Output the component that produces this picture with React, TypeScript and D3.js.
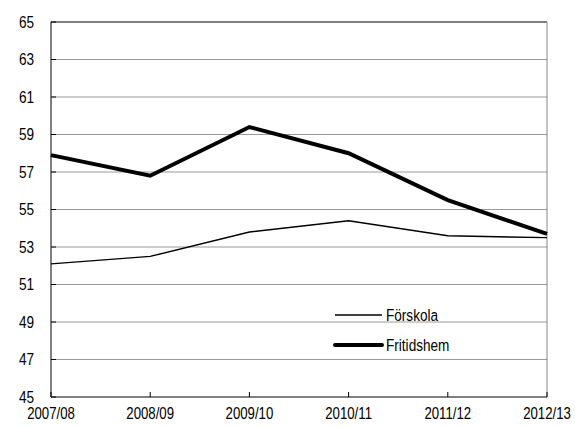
import React from "react";
import * as d3 from "d3";

const categories = ["2007/08", "2008/09", "2009/10", "2010/11", "2011/12", "2012/13"];
const forskola = [52.1, 52.5, 53.8, 54.4, 53.6, 53.5];
const fritidshem = [57.9, 56.8, 59.4, 58.0, 55.5, 53.7];
const yTicks = [45, 47, 49, 51, 53, 55, 57, 59, 61, 63, 65];
const seriesNames = ["Förskola", "Fritidshem"];

const W = 575, H = 427;
const left = 51, right = 547, top = 22, bottom = 397;
const font = "'Liberation Sans', Arial, sans-serif";
const SX = 0.8;

function T({ x, y, anchor = "start", size = 17, children }: { x: number; y: number; anchor?: string; size?: number; children: React.ReactNode }) {
  return (
    <text
      transform={`translate(${x},${y}) scale(${SX},1)`}
      textAnchor={anchor}
      fontFamily={font}
      fontSize={size}
      fill="#000"
    >
      {children}
    </text>
  );
}

export default function App() {
  const x = d3.scalePoint<string>().domain(categories).range([left, right]);
  const y = d3.scaleLinear().domain([45, 65]).range([bottom, top]);
  const line = d3.line<number>().x((_, i) => x(categories[i]) as number).y((d) => y(d));

  return (
    <svg width={W} height={H} style={{ position: "absolute", left: 0, top: 0, background: "#fff" }}>
      {yTicks.filter((t) => t !== 45 && t !== 65).map((t) => (
        <line key={t} x1={left + 1} x2={right} y1={y(t)} y2={y(t)} stroke="#999" strokeWidth={1} />
      ))}
      <line x1={left} x2={right} y1={top} y2={top} stroke="#000" strokeWidth={1} />
      <line x1={right} x2={right} y1={top} y2={bottom} stroke="#888" strokeWidth={1} />
      <line x1={left} x2={left} y1={top} y2={bottom} stroke="#000" strokeWidth={1} />
      <line x1={left} x2={right} y1={bottom} y2={bottom} stroke="#000" strokeWidth={1} />
      {yTicks.map((t) => (
        <g key={t}>
          <line x1={left} x2={left + 5} y1={y(t)} y2={y(t)} stroke="#000" />
          <T x={34} y={y(t) + 5.5} anchor="end">{t}</T>
        </g>
      ))}
      {categories.map((c) => (
        <g key={c}>
          <line x1={x(c)} x2={x(c)} y1={bottom} y2={bottom - 5} stroke="#000" />
          <T x={x(c) as number} y={419} anchor="middle" size={16.5}>{c}</T>
        </g>
      ))}
      <path d={line(forskola) || ""} fill="none" stroke="#000" strokeWidth={1.5} />
      <path d={line(fritidshem) || ""} fill="none" stroke="#000" strokeWidth={4} />
      <line x1={335} x2={382} y1={315} y2={315} stroke="#000" strokeWidth={1.5} />
      <T x={386} y={321}>{seriesNames[0]}</T>
      <line x1={335} x2={382} y1={345} y2={345} stroke="#000" strokeWidth={4} strokeLinecap="round" />
      <T x={386} y={351}>{seriesNames[1]}</T>
    </svg>
  );
}
